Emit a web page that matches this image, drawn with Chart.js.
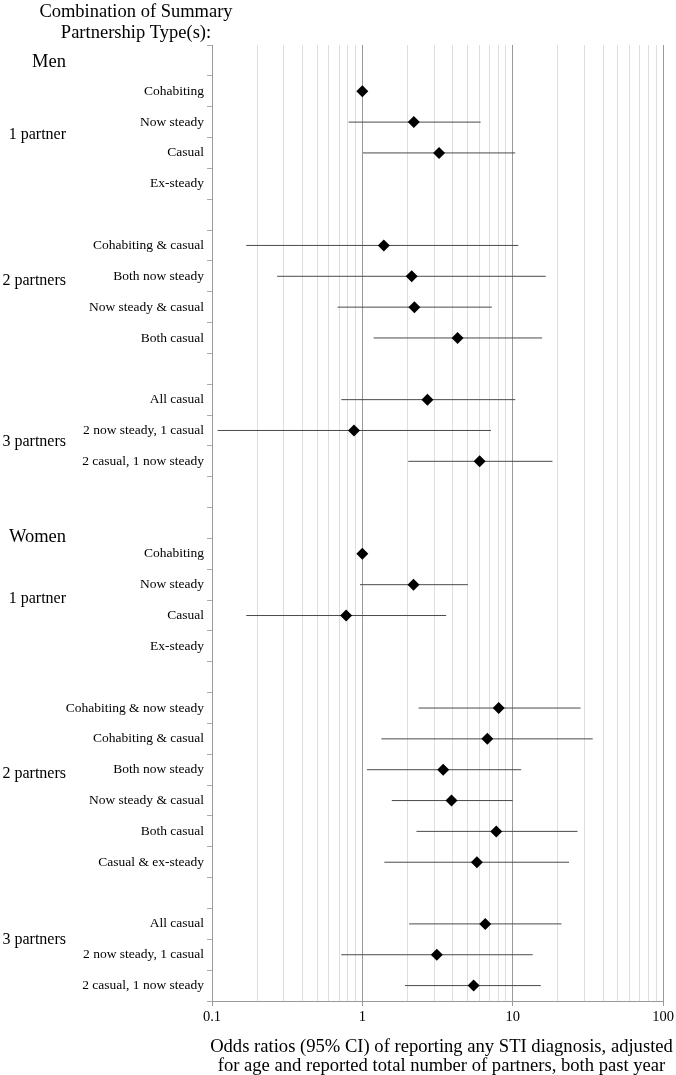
<!DOCTYPE html>
<html><head><meta charset="utf-8">
<script src="https://cdn.jsdelivr.net/npm/chart.js@4.4.1/dist/chart.umd.min.js"></script>
<style>html,body{margin:0;padding:0;background:#fff;}#wrap{width:676px;height:1075px;}</style>
</head><body><div id="wrap"><canvas id="c" width="676" height="1075"></canvas></div>
<script>
// ---- data ----
const rowLabels = ["", "Cohabiting", "Now steady", "Casual", "Ex-steady", "",
  "Cohabiting & casual", "Both now steady", "Now steady & casual", "Both casual", "",
  "All casual", "2 now steady, 1 casual", "2 casual, 1 now steady", "", "",
  "Cohabiting", "Now steady", "Casual", "Ex-steady", "",
  "Cohabiting & now steady", "Cohabiting & casual", "Both now steady", "Now steady & casual", "Both casual", "Casual & ex-steady", "",
  "All casual", "2 now steady, 1 casual", "2 casual, 1 now steady"];
const oddsRatio = [null, 1.0, 2.20, 3.24, null, null,
  1.39, 2.13, 2.22, 4.30, null,
  2.71, 0.88, 6.03, null, null,
  1.0, 2.19, 0.78, null, null,
  8.07, 6.78, 3.45, 3.92, 7.78, 5.78, null,
  6.57, 3.13, 5.50];
const ciLow = [null, null, 0.81, 1.01, null, null,
  0.169, 0.271, 0.685, 1.19, null,
  0.724, 0.109, 2.02, null, null,
  null, 0.965, 0.169, null, null,
  2.37, 1.34, 1.074, 1.57, 2.29, 1.40, null,
  2.05, 0.724, 1.92];
const ciHigh = [null, null, 6.12, 10.4, null, null,
  10.9, 16.6, 7.28, 15.7, null,
  10.4, 7.17, 18.4, null, null,
  null, 5.04, 3.61, null, null,
  28.3, 34.1, 11.4, 10.0, 27.0, 23.7, null,
  21.1, 13.6, 15.4];
const xGridValues = [0.1,0.2,0.3,0.4,0.5,0.6,0.7,0.8,0.9,1,2,3,4,5,6,7,8,9,10,20,30,40,50,60,70,80,90,100];
const xLabelValues = [0.1, 1, 10, 100];
const groupLabelText = ["Men", "1 partner", "2 partners", "3 partners", "Women", "1 partner", "2 partners", "3 partners"];
const headerText = ["Combination of Summary", "Partnership Type(s):"];
const xTitle = ["Odds ratios (95% CI) of reporting any STI diagnosis, adjusted", "for age and reported total number of partners, both past year"];

// ---- layout (not data) ----
const groupLabelRow = [0.05, 2.4, 7.15, 12.37, 15.45, 17.46, 23.14, 28.52];
const groupLabelSize = [18.5, 16, 16, 16, 18.5, 16, 16, 16];
const FONT = '"Liberation Serif", "Times New Roman", serif';

const diamonds = [];
oddsRatio.forEach((v, i) => { if (v != null) diamonds.push({x: v, y: i}); });
const ciSegs = [];
ciLow.forEach((lo, i) => { if (lo != null) { ciSegs.push({x: lo, y: i}, {x: ciHigh[i], y: i}, {x: null, y: null}); } });

const textPlugin = {
  id: 'textPlugin',
  afterDraw(chart) {
    const ctx = chart.ctx, s = chart.scales.yv, xs = chart.scales.x;
    ctx.save();
    ctx.fillStyle = '#000';
    ctx.textAlign = 'right';
    ctx.textBaseline = 'middle';
    groupLabelText.forEach((t, i) => {
      ctx.font = groupLabelSize[i] + 'px ' + FONT;
      ctx.fillText(t, 66, s.getPixelForValue(groupLabelRow[i]));
    });
    ctx.textAlign = 'center';
    ctx.textBaseline = 'alphabetic';
    ctx.font = '18.5px ' + FONT;
    ctx.fillText(headerText[0], 136, 17);
    ctx.fillText(headerText[1], 136, 37.5);
    // x-axis title (two lines), centred slightly right of the plot centre
    ctx.font = '18.6px ' + FONT;
    ctx.textBaseline = 'middle';
    const cx = (xs.left + xs.right) / 2 + 4;
    ctx.fillText(xTitle[0], cx, xs.bottom - 28);
    ctx.fillText(xTitle[1], cx, xs.bottom - 9);
    ctx.restore();
  }
};

new Chart(document.getElementById('c'), {
  type: 'scatter',
  data: {datasets: [
    {label: 'OR', data: diamonds, xAxisID: 'x', yAxisID: 'yv', pointStyle: 'rectRot', pointRadius: 6,
     backgroundColor: '#000', borderColor: '#000', borderWidth: 0, showLine: false},
    {label: 'CI', data: ciSegs, xAxisID: 'x', yAxisID: 'yv', showLine: true, pointRadius: 0,
     borderColor: '#4a4a4a', borderWidth: 1, spanGaps: false}
  ]},
  options: {
    responsive: false, animation: false, events: [],
    layout: {padding: {left: 0, right: 13, top: 45, bottom: 0}},
    plugins: {legend: {display: false}, tooltip: {enabled: false}},
    scales: {
      x: {
        type: 'logarithmic', position: 'bottom', min: 0.1, max: 100,
        afterBuildTicks: s => { s.ticks = xGridValues.map(v => ({value: v, major: xLabelValues.includes(v)})); },
        afterFit: s => { s.height = 74; },
        ticks: {autoSkip: false, maxRotation: 0, color: '#000', padding: 2,
          font: {family: FONT, size: 14.5},
          callback: v => xLabelValues.includes(v) ? String(v) : ''},
        grid: {
          color: c => (c.tick && xLabelValues.includes(c.tick.value)) ? '#9a9a9a' : '#dedede',
          tickColor: c => (c.tick && xLabelValues.includes(c.tick.value)) ? '#9a9a9a' : 'rgba(0,0,0,0)',
          tickLength: 5, lineWidth: 1
        },
        border: {color: '#9a9a9a'},
        title: {display: false}
      },
      y: {
        type: 'category', labels: rowLabels, position: 'left', offset: true,
        afterFit: s => { s.width = 212; },
        grid: {offset: true, drawOnChartArea: false, tickLength: 5, color: '#aaaaaa'},
        border: {color: '#9a9a9a'},
        ticks: {autoSkip: false, color: '#000', padding: 3, font: {family: FONT, size: 13.5}}
      },
      yv: {type: 'linear', display: false, min: -0.5, max: 30.5, reverse: true}
    }
  },
  plugins: [textPlugin]
});
</script></body></html>
